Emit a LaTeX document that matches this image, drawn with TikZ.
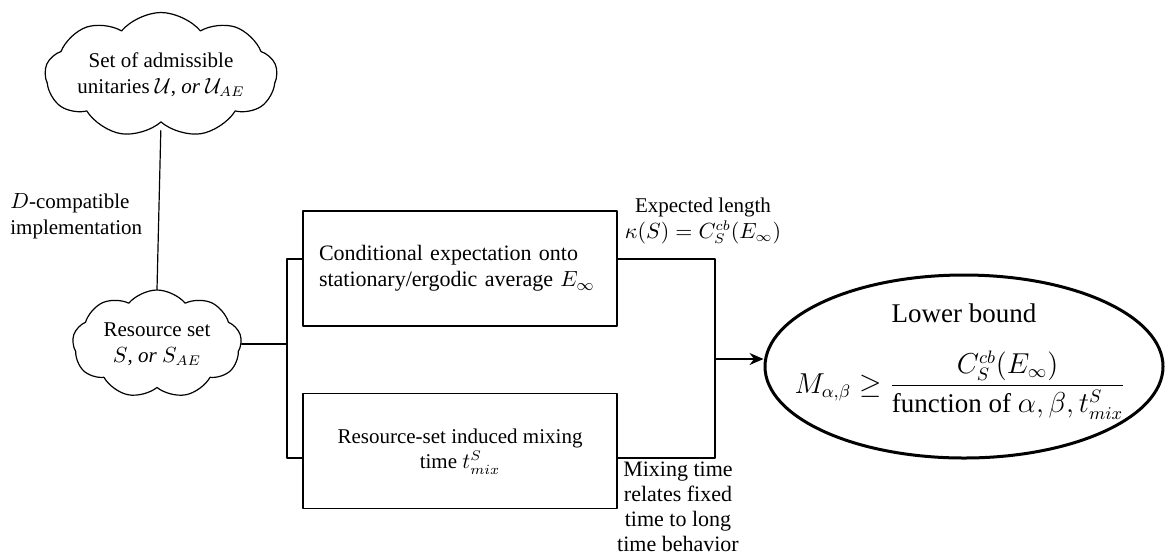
\documentclass[tikz,border=0pt]{standalone}
\usepackage{fontspec}
\setmainfont{Liberation Serif}
\usepackage{amsmath}
\usetikzlibrary{calc,shapes.symbols,shapes.geometric,arrows.meta}

\begin{document}
\begin{tikzpicture}[
    x=0.5pt,
    y=-0.5pt,
    line cap=round,
    line join=round,
    font=\fontsize{10.5}{12.8}\selectfont,
    cloudnode/.style={
        cloud,
        cloud puffs=9,
        cloud puff arc=100,
        cloud ignores aspect,
        draw,
        line width=0.6pt,
        align=center,
        inner sep=0pt
    },
    stagebox/.style={
        draw,
        line width=0.6pt,
        minimum width=157pt,
        minimum height=57.5pt,
        inner sep=0pt
    },
    boundnode/.style={
        ellipse,
        draw,
        line width=1.5pt,
        minimum width=199pt,
        minimum height=91.5pt,
        inner sep=0pt
    },
    wire/.style={line width=0.6pt},
    note/.style={align=center, inner sep=0pt}
]
    % Canvas
    \useasboundingbox (0,0) rectangle (1166,559);

    % Clouds
    \node[cloudnode, minimum width=99pt, minimum height=62.5pt] (unit) at (161,75)
        {Set of admissible\\unitaries $\mathcal{U}$, \textit{or} $\mathcal{U}_{AE}$};

    \node[cloudnode, minimum width=84.5pt, minimum height=54pt] (res) at (157,344)
        {Resource set\\$S$, \textit{or} $S_{AE}$};

    % Stage boxes
    \node[stagebox, text width=141pt, inner xsep=8pt, align=left,
          font=\fontsize{11}{13}\selectfont] (cond) at (460,268.5)
        {Conditional expectation onto\\stationary/ergodic average $E_\infty$};

    \node[stagebox, align=center] (mix) at (460,451)
        {\raisebox{-6pt}{\begin{tabular}{@{}c@{}}Resource-set induced mixing\\time $t^{S}_{mix}$\end{tabular}}};

    % Result
    \node[boundnode] (bound) at (964,366.5) {};
    \node[note, font=\fontsize{13.5}{16}\selectfont] (boundtitle) at (964,313) {Lower bound};
    \node[note, font=\fontsize{13.5}{16}\selectfont] (boundformula) at (960,385)
        {$\displaystyle M_{\alpha,\beta}\geq\frac{C^{cb}_{S}(E_\infty)}{\text{function of }\alpha,\beta,t^{S}_{mix}}$};

    % Junction points
    \coordinate (jlt) at (287,259);
    \coordinate (jlb) at (287,458);
    \coordinate (jrt) at (715,259);
    \coordinate (jrb) at (715,458);
    \coordinate (jm)  at (715,359);

    % Connectors
    \draw[wire, shorten <=4pt] (unit.south) -- (res.north);
    \draw[wire] (res.east) -- (res.east -| jlt);
    \draw[wire] (jlt -| cond.west) -- (jlt) -- (jlb) -- (jlb -| mix.west);
    \draw[wire] (jrt -| cond.east) -- (jrt) -- (jrb) -- (jrb -| mix.east);
    \draw[wire, -{Stealth[length=7pt,width=6pt]}] (jm) -- (jm -| bound.west);

    % Labels
    \node[note, anchor=west, align=left] (dlabel) at (10,216)
        {$D$-compatible\\implementation};

    \node[note] (klabel) at (703,221)
        {Expected length\\$\kappa(S)=C^{cb}_{S}(E_\infty)$};

    \node[note, font=\fontsize{11}{12.5}\selectfont] (mlabel) at (678,507)
        {Mixing time\\relates fixed\\time to long\\time behavior};
\end{tikzpicture}
\end{document}
